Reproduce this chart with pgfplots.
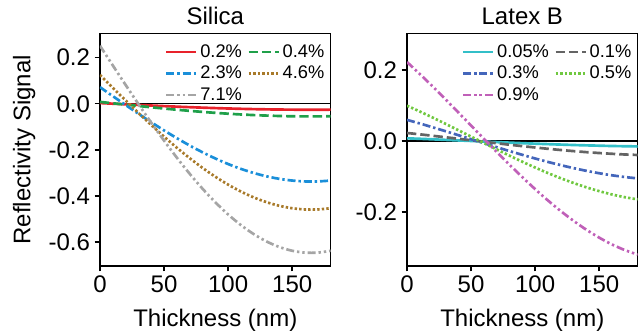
\documentclass[border=0pt]{standalone}
\usepackage{pgfplots}
\pgfplotsset{compat=1.18}
\usepackage{pgfplotstable}
\usepackage{fontspec}
\setmainfont{Liberation Sans}

\definecolor{cRed}{RGB}{232,34,43}
\definecolor{cGreen}{RGB}{31,160,74}
\definecolor{cBlue}{RGB}{26,143,217}
\definecolor{cBrown}{RGB}{168,122,42}
\definecolor{cGray}{RGB}{165,165,165}
\definecolor{cCyan}{RGB}{51,191,200}
\definecolor{cDkGray}{RGB}{100,100,100}
\definecolor{cRoyal}{RGB}{68,102,187}
\definecolor{cLime}{RGB}{112,200,64}
\definecolor{cMagenta}{RGB}{192,96,184}

% Silica: thickness (nm) vs reflectivity signal for each concentration
\pgfplotstableread{
x    a       b       c       d       e
0    0.0030  0.0080  0.0720  0.1250  0.2520
10   0.0002  0.0020  0.0330  0.0694  0.1664
20  -0.0025 -0.0039 -0.0056  0.0143  0.0816
30  -0.0052 -0.0097 -0.0435 -0.0398 -0.0015
40  -0.0078 -0.0154 -0.0804 -0.0924 -0.0825
50  -0.0103 -0.0209 -0.1159 -0.1430 -0.1604
60  -0.0127 -0.0261 -0.1496 -0.1913 -0.2345
70  -0.0149 -0.0309 -0.1815 -0.2366 -0.3044
80  -0.0170 -0.0355 -0.2109 -0.2787 -0.3691
90  -0.0189 -0.0396 -0.2378 -0.3171 -0.4281
100 -0.0206 -0.0433 -0.2620 -0.3515 -0.4811
110 -0.0221 -0.0466 -0.2831 -0.3816 -0.5274
120 -0.0234 -0.0493 -0.3009 -0.4071 -0.5666
130 -0.0244 -0.0515 -0.3155 -0.4278 -0.5985
140 -0.0252 -0.0532 -0.3264 -0.4435 -0.6226
150 -0.0257 -0.0544 -0.3338 -0.4540 -0.6388
160 -0.0260 -0.0549 -0.3375 -0.4594 -0.6470
170 -0.0260 -0.0549 -0.3375 -0.4594 -0.6470
180 -0.0257 -0.0544 -0.3338 -0.4540 -0.6388
}\silica

% Latex B
\pgfplotstableread{
x    a       b       c       d       e
0    0.0080  0.0230  0.0600  0.1000  0.2230
10   0.0066  0.0192  0.0498  0.0836  0.1893
20   0.0051  0.0151  0.0391  0.0665  0.1542
30   0.0036  0.0110  0.0281  0.0489  0.1180
40   0.0020  0.0068  0.0169  0.0309  0.0811
50   0.0005  0.0025  0.0056  0.0128  0.0439
60  -0.0011 -0.0017 -0.0058 -0.0053  0.0066
70  -0.0027 -0.0059 -0.0170 -0.0233 -0.0303
80  -0.0042 -0.0101 -0.0280 -0.0409 -0.0664
90  -0.0057 -0.0141 -0.0386 -0.0580 -0.1016
100 -0.0071 -0.0179 -0.0489 -0.0744 -0.1353
110 -0.0084 -0.0216 -0.0586 -0.0900 -0.1673
120 -0.0097 -0.0250 -0.0677 -0.1046 -0.1972
130 -0.0109 -0.0281 -0.0761 -0.1180 -0.2248
140 -0.0119 -0.0310 -0.0837 -0.1302 -0.2499
150 -0.0128 -0.0335 -0.0905 -0.1410 -0.2721
160 -0.0137 -0.0357 -0.0963 -0.1504 -0.2913
170 -0.0143 -0.0376 -0.1012 -0.1581 -0.3072
180 -0.0149 -0.0390 -0.1050 -0.1642 -0.3198
}\latexb

\tikzset{
  curve/.style={line width=2pt, smooth},
  dashedA/.style={dash pattern=on 7pt off 3pt},
  dashdotA/.style={dash pattern=on 6pt off 2.2pt on 1.8pt off 2.2pt},
  dottedA/.style={dash pattern=on 1.8pt off 1.6pt},
  dashdotdotA/.style={dash pattern=on 6pt off 2.2pt on 1.8pt off 2.2pt on 1.8pt off 2.2pt},
}

\pgfplotsset{
  panel/.style={
    scale only axis,
    width=173pt, height=174.5pt,
    xmin=0, xmax=180,
    xtick={0,50,100,150},
    xticklabels={0,50,100,150},
    tick pos=left,
    tick align=outside,
    major tick length=4pt,
    every tick/.style={black, line width=1.1pt},
    axis line style={black, line width=1.1pt},
    font=\fontsize{18}{21}\selectfont,
    ticklabel style={font=\fontsize{18}{21}\selectfont},
    label style={font=\fontsize{18}{21}\selectfont},
    xlabel style={yshift=-5pt},
    title style={font=\fontsize{18}{21}\selectfont, inner sep=0pt, yshift=0.5pt},
    xlabel={Thickness (nm)},
    legend columns=2,
    legend cell align=left,
    legend style={draw=none, fill=none, at={(rel axis cs:0.985,0.955)},
      anchor=north east, inner sep=0pt, row sep=4pt,
      font=\fontsize{13.7}{15}\selectfont,
      nodes={inner xsep=2pt, inner ysep=0.5pt},
      /tikz/every even column/.append style={column sep=2pt}},
    legend image code/.code={\draw[#1] (0pt,0pt) -- (22.5pt,0pt);},
  },
}

\begin{document}
\begin{tikzpicture}
\begin{axis}[panel, at={(0pt,0pt)}, anchor=south west,
    ymin=-0.705, ymax=0.306,
    ytick={-0.6,-0.4,-0.2,0,0.2},
    yticklabels={-0.6,-0.4,-0.2,0.0,0.2},
    ylabel={Reflectivity Signal},
    ylabel style={yshift=3pt},
    title={Silica}]
  \addplot[black, line width=1.1pt, forget plot] coordinates {(0,0) (180,0)};
  \addplot[curve, cRed] table[x=x, y=a] {\silica};
  \addlegendentry{0.2\%}
  \addplot[curve, cGreen, dashedA] table[x=x, y=b] {\silica};
  \addlegendentry{0.4\%}
  \addplot[curve, cBlue, dashdotA] table[x=x, y=c] {\silica};
  \addlegendentry{2.3\%}
  \addplot[curve, cBrown, dottedA] table[x=x, y=d] {\silica};
  \addlegendentry{4.6\%}
  \addplot[curve, cGray, dashdotdotA] table[x=x, y=e] {\silica};
  \addlegendentry{7.1\%}
\end{axis}

\begin{axis}[panel, at={(230.25pt,0pt)}, anchor=south west,
    ymin=-0.352, ymax=0.304,
    ytick={-0.2,0,0.2},
    yticklabels={-0.2,0.0,0.2},
    title={Latex B}]
  \addplot[black, line width=1.1pt, forget plot] coordinates {(0,0) (180,0)};
  \addplot[curve, cCyan] table[x=x, y=a] {\latexb};
  \addlegendentry{0.05\%}
  \addplot[curve, cDkGray, dashedA] table[x=x, y=b] {\latexb};
  \addlegendentry{0.1\%}
  \addplot[curve, cRoyal, dashdotA] table[x=x, y=c] {\latexb};
  \addlegendentry{0.3\%}
  \addplot[curve, cLime, dottedA] table[x=x, y=d] {\latexb};
  \addlegendentry{0.5\%}
  \addplot[curve, cMagenta, dashdotdotA] table[x=x, y=e] {\latexb};
  \addlegendentry{0.9\%}
\end{axis}

\useasboundingbox (-75pt,-51.75pt) rectangle (404.25pt,199.5pt);
\end{tikzpicture}
\end{document}
